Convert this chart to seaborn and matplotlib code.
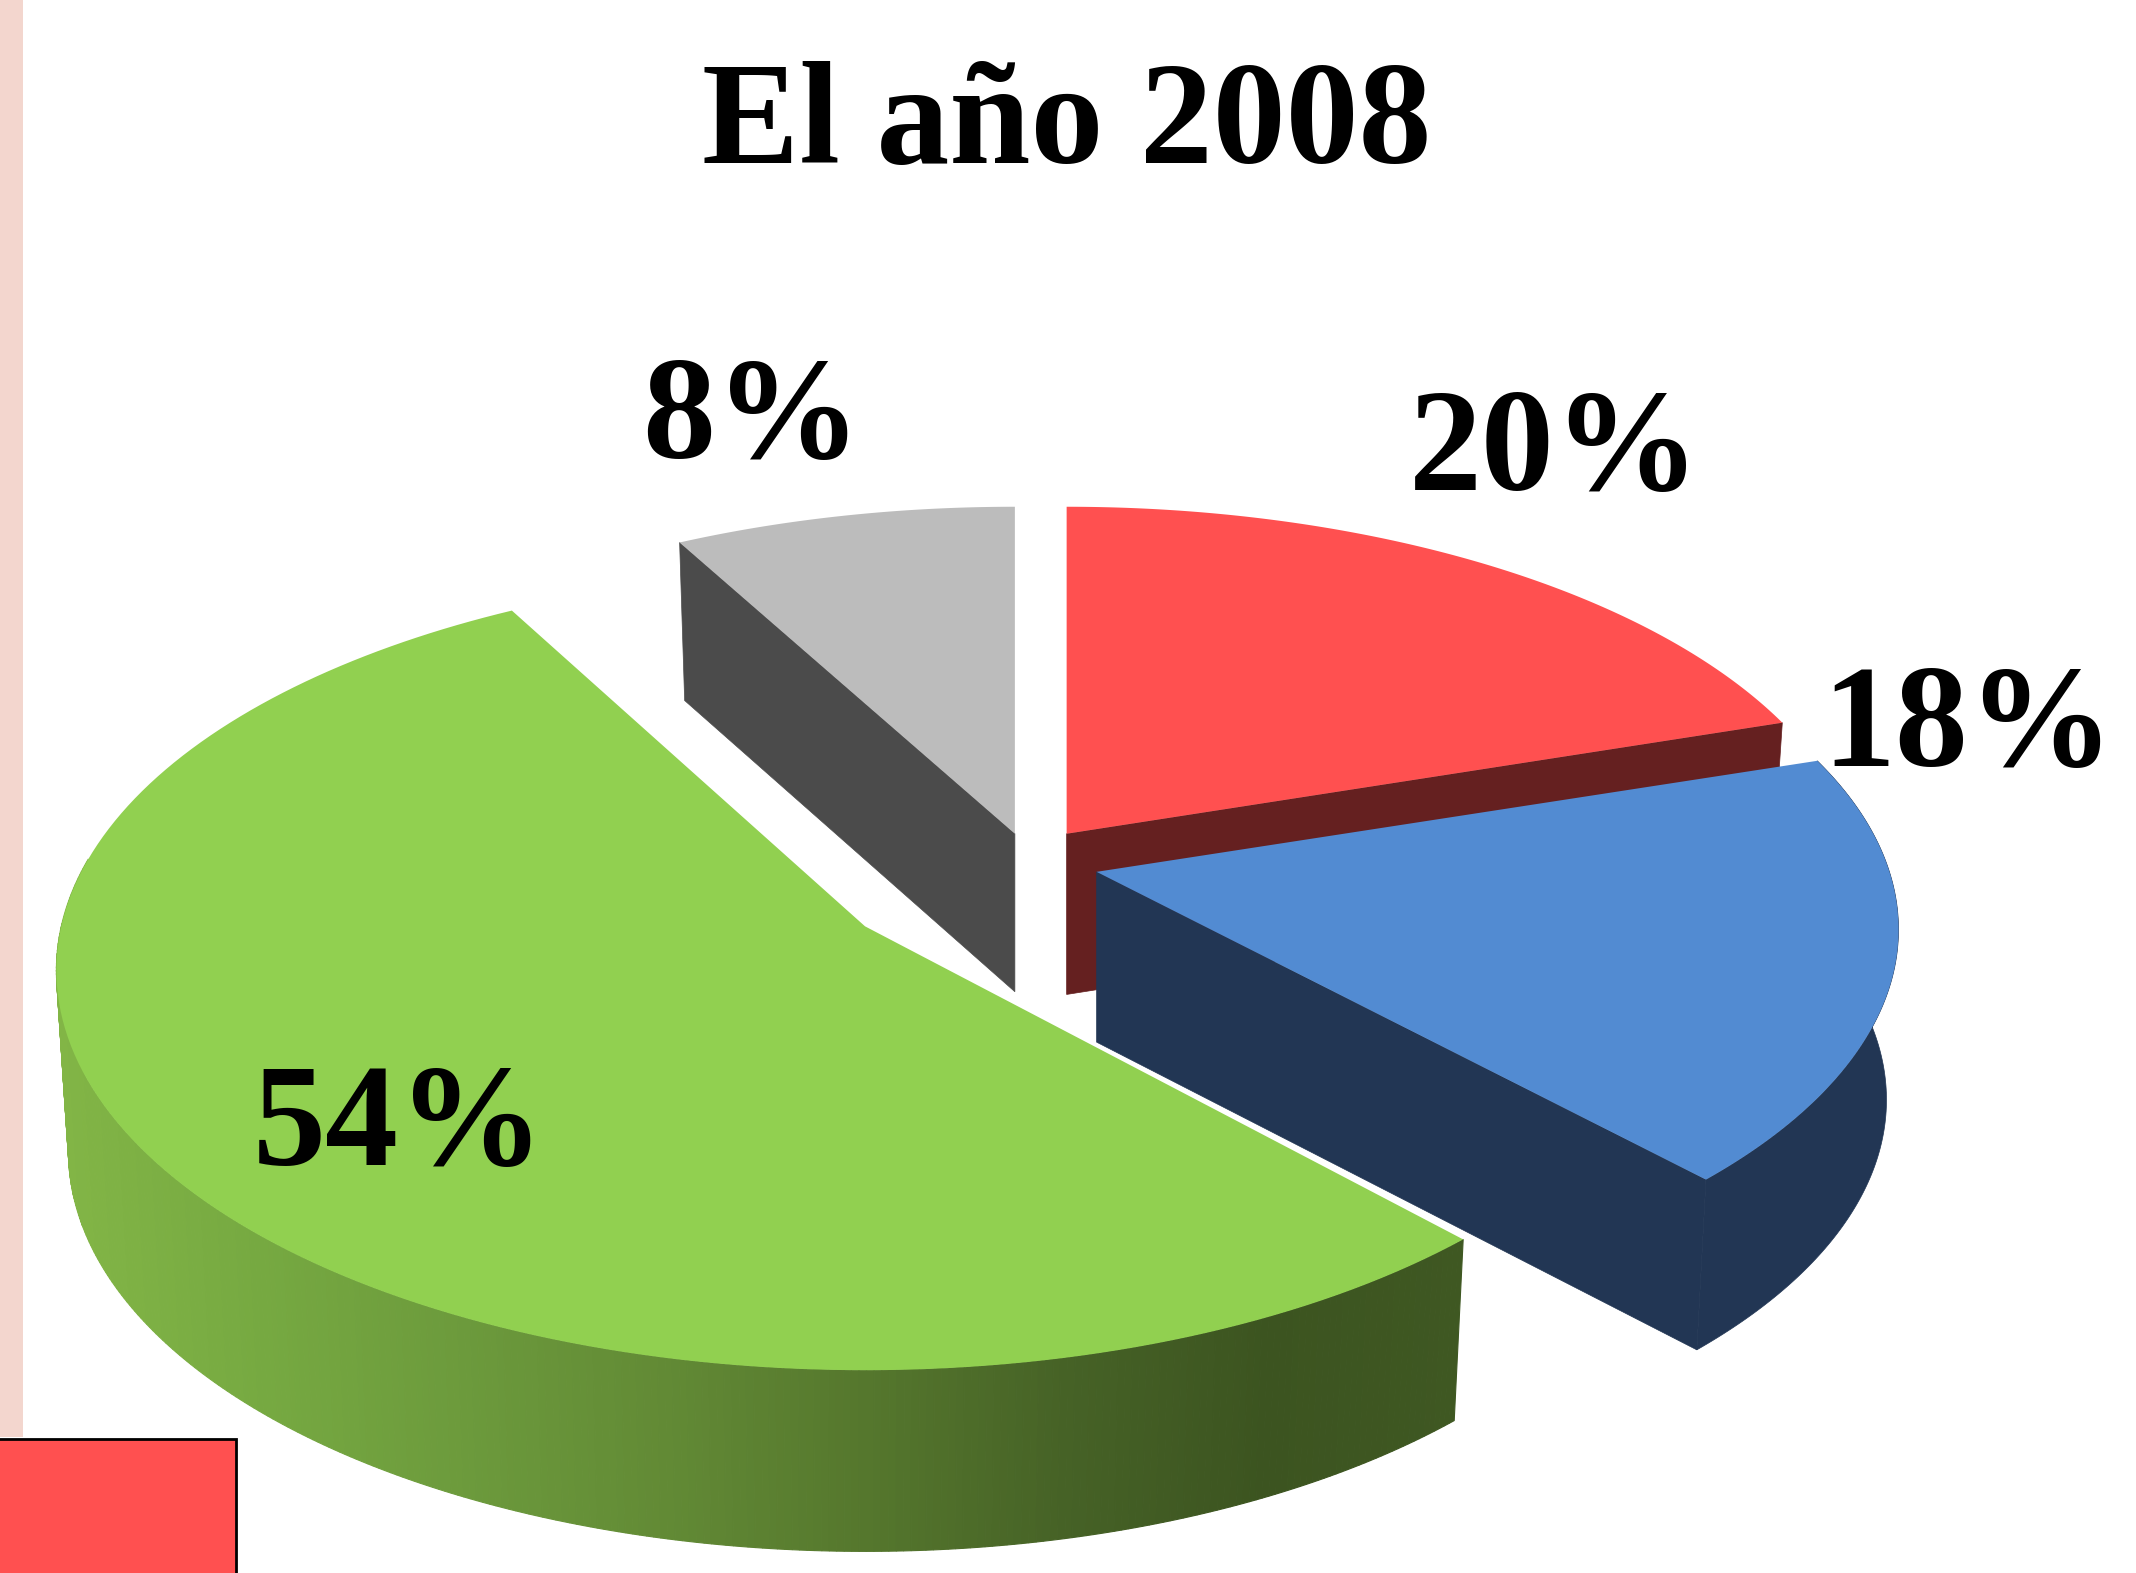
import numpy as np
import matplotlib
matplotlib.use("Agg")
import matplotlib.pyplot as plt
from matplotlib.patches import Rectangle
import seaborn as sns

title = "El año 2008"
categories = ["A", "B", "C", "D"]
values = [20, 18, 54, 8]
labels = ["20%", "18%", "54%", "8%"]
top_colors = ["#ff5050", "#528bd2", "#91d050", "#bcbcbc"]
side_colors = ["#652020", "#223654", "#3f5822", "#4b4b4b"]
green_ramp = ["#82b546", "#76a941", "#6c9a3c", "#628a35", "#55772d", "#466226", "#3c5420", "#3f5822"]

W, H = 2136, 1573
S = W / 1568

sns.set_theme(style="white")
plt.rcParams["font.family"] = ["Liberation Serif", "DejaVu Serif"]
fig = plt.figure(figsize=(W / 100, H / 100), dpi=100, facecolor="white")
ax = fig.add_axes([0, 0, 1, 1])
ax.set_xlim(0, W)
ax.set_ylim(H, 0)
ax.axis("off")

# layout of each exploded slice (in reduced-image units): centre, radii, depth
centres = [(783, 612), (805, 640), (635, 680), (745, 612)]
radius_x = [578, 582, 590, 578]
radius_y = [276, 276, 290, 276]
persp = [0.15, 0.15, 0.11, 0.15]
depths = [118, 125, 133, 116]
shrink = 0.985


def rim(i, deg):
    t = np.radians(np.atleast_1d(deg))
    w = 1 + persp[i] * np.sin(t)
    return radius_x[i] * np.cos(t) / w, -radius_y[i] * np.sin(t) / w


def top_xy(i, deg):
    x, y = rim(i, deg)
    return (centres[i][0] + x) * S, (centres[i][1] + y) * S


def bottom_xy(i, deg):
    x, y = rim(i, deg)
    return (centres[i][0] + shrink * x) * S, (centres[i][1] + y + depths[i]) * S


def apex(i):
    cx, cy = centres[i]
    return cx * S, cy * S, cx * S, (cy + depths[i]) * S


shares = np.array(values) / np.sum(values) * 360
ends = 90 - np.cumsum(shares)
starts = ends + shares


def radial_wall(i, deg, z):
    ax_, ay_, bx_, by_ = apex(i)
    px, py = top_xy(i, deg)
    qx, qy = bottom_xy(i, deg)
    ax.fill([ax_, px[0], qx[0], bx_], [ay_, py[0], qy[0], by_],
            facecolor=side_colors[i], edgecolor=side_colors[i], lw=0.5, zorder=z)


def top_face(i, z):
    arc = np.linspace(starts[i], ends[i], 160)
    x, y = top_xy(i, arc)
    ax.fill(np.r_[centres[i][0] * S, x], np.r_[centres[i][1] * S, y],
            color=top_colors[i], lw=0, zorder=z)


# red slice
radial_wall(0, ends[0], 1)
top_face(0, 2)

# grey slice
radial_wall(3, starts[3], 1)
top_face(3, 2)

# blue slice
radial_wall(1, ends[1], 3)
arc = np.linspace(ends[1], starts[1], 120)
tx, ty = top_xy(1, arc)
bx, by = bottom_xy(1, arc)
ax.fill(np.r_[tx, bx[::-1]], np.r_[ty, by[::-1]], facecolor=side_colors[1],
        edgecolor=side_colors[1], lw=0.5, zorder=3)
top_face(1, 4)

# green slice with shaded outer wall
arc = np.linspace(-190, starts[2], 300)
tx, ty = top_xy(2, arc)
bx, by = bottom_xy(2, arc)
ramp = sns.blend_palette(green_ramp, 256)
xmin, xmax = tx.min(), tx.max()
for k in range(len(arc) - 1):
    c = ramp[int((tx[k] - xmin) / (xmax - xmin) * 255)]
    ax.fill([tx[k], tx[k + 1], bx[k + 1], bx[k]], [ty[k], ty[k + 1], by[k + 1], by[k]],
            facecolor=c, edgecolor=c, lw=0.8, zorder=5)
top_face(2, 6)

# page fragments at the left edge
ax.add_patch(Rectangle((0, 0), 17 * S, 1055 * S, facecolor="#f3d6ce", lw=0, zorder=0))
ax.add_patch(Rectangle((-10, 1056 * S), 173 * S + 10, 120 * S, facecolor="#ff5050",
                       edgecolor="black", lw=2, zorder=7))

# text
ax.text(783 * S, 120 * S, title, ha="center", va="baseline", fontsize=105,
        fontweight="bold", color="black", zorder=9)
label_pos = [(1141, 360), (1445, 562), (293, 855), (552, 336)]
for lab, (lx, ly) in zip(labels, label_pos):
    ax.text(lx * S, ly * S, lab, ha="center", va="baseline", fontsize=105,
            fontweight="bold", color="black", zorder=9)

fig.savefig("out.png", dpi=100, facecolor="white")
